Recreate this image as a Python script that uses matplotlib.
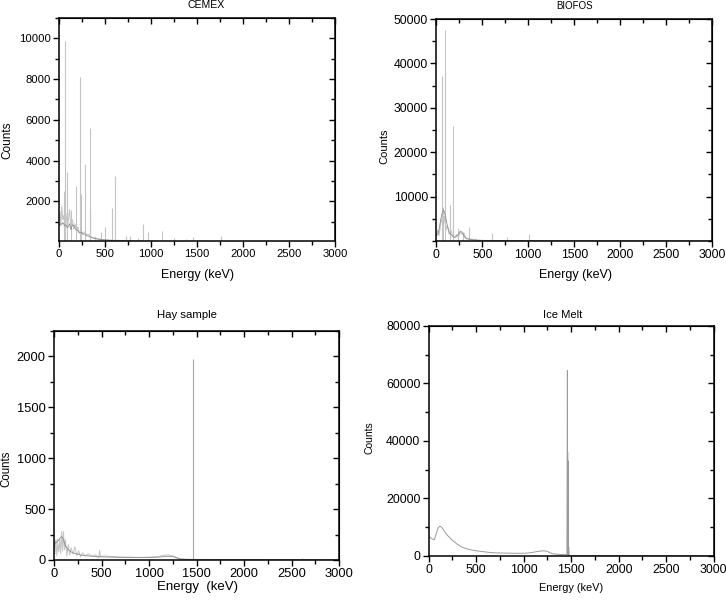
import numpy as np
import matplotlib
matplotlib.use('Agg')
import matplotlib.pyplot as plt
from matplotlib.ticker import MultipleLocator

plt.rcParams['font.family'] = ['Liberation Sans', 'DejaVu Sans']

# ---- CEMEX ----
cemex_energy = [0, 10, 20, 30, 40, 50, 60, 75, 90, 100, 115, 130, 145, 160, 175, 190, 205, 220, 240,
                260, 280, 300, 320, 345, 370, 400, 450, 500, 550, 600, 700, 800, 900, 1000, 1200,
                1400, 1600, 1800, 2000, 2500, 3000]
cemex_light = [900, 1500, 800, 1750, 1100, 1300, 900, 1400, 800, 1000, 1600, 700, 1100, 650, 900, 550,
               750, 450, 600, 400, 500, 350, 380, 250, 220, 180, 140, 120, 100, 90, 70, 55, 45, 40,
               30, 25, 20, 15, 10, 8, 5]
cemex_dark = [800, 850, 900, 870, 950, 900, 800, 850, 700, 750, 900, 600, 850, 800, 650, 600, 550, 450,
              480, 380, 400, 300, 300, 230, 200, 160, 120, 100, 80, 70, 60, 45, 40, 35, 25, 20, 15,
              12, 8, 5, 4]
cemex_peak_e = [58, 69, 87, 130, 188, 232, 241, 286, 335, 340, 391, 456, 503, 580, 605, 727, 775,
                860, 910, 967, 1123, 1247, 1377, 1460, 1594, 1764]
cemex_peak_c = [2500, 9850, 3450, 1550, 2750, 8100, 2350, 3850, 1550, 5600, 300, 500, 750, 1650,
                3250, 300, 300, 200, 870, 500, 550, 180, 150, 250, 100, 300]

# ---- BIOFOS ----
biofos_energy = [0, 15, 30, 45, 60, 75, 90, 105, 120, 140, 160, 180, 200, 220, 240, 260, 280, 300,
                 320, 350, 400, 450, 500, 600, 800, 1000, 1500, 2000, 3000]
biofos_light = [1000, 2500, 1200, 3500, 5000, 3000, 5500, 2500, 3500, 1500, 2500, 1000, 800, 1500,
                900, 2000, 1500, 1800, 700, 600, 300, 200, 150, 120, 80, 60, 30, 20, 10]
biofos_dark = [1200, 1500, 2500, 4500, 6000, 7000, 6500, 5000, 3500, 2000, 1500, 1000, 800, 1000,
               1500, 2200, 2000, 1200, 600, 400, 250, 180, 130, 100, 70, 50, 25, 15, 8]
biofos_peak_e = [62, 73, 92, 152, 186, 236, 295, 352, 417, 609, 768, 1004]
biofos_peak_c = [37200, 7700, 47500, 8000, 25900, 3000, 2000, 3200, 600, 1900, 1000, 1500]

# ---- Hay sample ----
hay_energy = [0, 10, 20, 30, 40, 50, 60, 70, 80, 90, 100, 110, 120, 135, 150, 165, 180, 200, 220,
              240, 260, 280, 300, 330, 360, 400, 440, 470, 480, 490, 520, 600, 700, 800, 900, 1000,
              1100, 1150, 1200, 1250, 1280, 1320, 1350, 1400, 1500, 1700, 2000, 2500, 3000]
hay_light = [230, 60, 200, 40, 170, 80, 200, 60, 280, 90, 280, 100, 200, 40, 150, 50, 120, 60, 130,
             40, 90, 30, 70, 40, 60, 35, 50, 20, 95, 30, 40, 35, 30, 28, 25, 28, 35, 45, 50, 40, 30,
             15, 10, 8, 6, 5, 5, 4, 3]
hay_dark = [150, 160, 180, 170, 200, 190, 210, 220, 230, 220, 200, 170, 140, 120, 100, 90, 80, 70,
            65, 60, 55, 50, 45, 42, 40, 38, 35, 33, 35, 32, 30, 28, 26, 25, 24, 25, 28, 32, 36, 34,
            25, 12, 8, 6, 5, 4, 4, 3, 2]
hay_peak_e = [1460, 2614]
hay_peak_c = [1975, 15]

# ---- Ice Melt ----
ice_energy = [0, 20, 40, 60, 80, 100, 120, 140, 160, 180, 200, 250, 300, 350, 400, 450, 500, 550,
              600, 650, 700, 800, 900, 1000, 1050, 1100, 1150, 1200, 1240, 1260, 1300, 1350, 1400,
              1450, 1455, 1460, 1461, 1462, 1463, 1464, 1466, 1467, 1469, 1471, 1474, 1478, 1500,
              2000, 2500, 3000]
ice_counts = [7000, 6200, 5800, 5600, 7800, 9800, 10300, 9800, 8800, 7800, 7000, 5300, 4000, 3000,
              2400, 2000, 1700, 1500, 1300, 1100, 1000, 900, 850, 850, 950, 1200, 1500, 1700, 1600,
              1300, 700, 500, 400, 350, 500, 64500, 40000, 500, 36000, 500, 33000, 300, 20000, 200,
              3000, 150, 60, 30, 20, 10]

LIGHT = '#c4c4c4'
DARK = '#8e8e8e'


def setup_axes(ax, ylim, yminor, yticks, fs):
  ax.set_xlim(0, 3000)
  ax.set_ylim(*ylim)
  xt = np.arange(0, 3001, 500)
  ax.set_xticks(xt)
  ax.xaxis.set_minor_locator(MultipleLocator(250))
  ax.set_yticks(yticks)
  ax.yaxis.set_minor_locator(MultipleLocator(yminor))
  ax.tick_params(which='major', direction='out', length=4, width=1, labelsize=fs, pad=2)
  ax.tick_params(which='minor', direction='out', length=3, width=1)
  for s in ax.spines.values():
    s.set_linewidth(1.1)
  # mirrored inward ticks on top / right
  top = ax.secondary_xaxis('top')
  top.set_xticks(xt)
  top.xaxis.set_minor_locator(MultipleLocator(250))
  top.tick_params(which='both', direction='in', labeltop=False, width=1)
  top.tick_params(which='major', length=4)
  top.tick_params(which='minor', length=3)
  right = ax.secondary_yaxis('right')
  right.set_yticks(yticks)
  right.yaxis.set_minor_locator(MultipleLocator(yminor))
  right.tick_params(which='both', direction='in', labelright=False, width=1)
  right.tick_params(which='major', length=4)
  right.tick_params(which='minor', length=3)


fig = plt.figure(figsize=(7.26, 6.03), dpi=100)
W, H = 726.0, 603.0

def add_axes(l, t, r, b):
  return fig.add_axes([l / W, 1 - b / H, (r - l) / W, (b - t) / H])

def ftext(x, y, s, size, rot=0):
  fig.text(x / W, 1 - y / H, s, fontsize=size, rotation=rot, ha='center', va='center')

# CEMEX
ax1 = add_axes(59, 18, 335, 241)
ax1.plot(cemex_energy, cemex_light, color=LIGHT, lw=0.7)
ax1.vlines(cemex_peak_e, 0, cemex_peak_c, color=LIGHT, lw=0.8)
ax1.plot(cemex_energy, cemex_dark, color=DARK, lw=0.6)
setup_axes(ax1, (50, 11000), 1000, [2000, 4000, 6000, 8000, 10000], 8.1)
ftext(206, 5, 'CEMEX', 7.6)
ftext(7, 140, 'Counts', 8.5, 90)
ftext(197, 275, 'Energy (keV)', 9)

# BIOFOS
ax2 = add_axes(436.3, 19, 712.3, 241)
ax2.plot(biofos_energy, biofos_light, color=LIGHT, lw=0.7)
ax2.vlines(biofos_peak_e, 0, biofos_peak_c, color=LIGHT, lw=0.8)
ax2.plot(biofos_energy, biofos_dark, color=DARK, lw=0.6)
setup_axes(ax2, (0, 50000), 5000, [10000, 20000, 30000, 40000, 50000], 8.8)
ftext(575, 6, 'BIOFOS', 7)
ftext(384.7, 146, 'Counts', 8, 90)
ftext(575.5, 275, 'Energy (keV)', 9)

# Hay sample
ax3 = add_axes(54, 330.7, 339, 560)
ax3.plot(hay_energy, hay_light, color=LIGHT, lw=0.7)
ax3.plot(hay_energy, hay_dark, color=DARK, lw=0.6)
ax3.vlines(hay_peak_e, 0, hay_peak_c, color='#a8a8a8', lw=0.8)
setup_axes(ax3, (0, 2250), 250, [0, 500, 1000, 1500, 2000], 9.3)
ftext(187, 315, 'Hay sample', 8.2)
ftext(6.7, 469, 'Counts', 8.3, 90)
ftext(197, 587, 'Energy  (keV)', 9.5)

# Ice Melt
ax4 = add_axes(428.7, 326, 713.7, 555.7)
ax4.plot(ice_energy, ice_counts, color='#9a9a9a', lw=0.7)
setup_axes(ax4, (0, 80000), 10000, [0, 20000, 40000, 60000, 80000], 8.9)
ftext(563, 315, 'Ice Melt', 8.1)
ftext(369.7, 438, 'Counts', 7.5, 90)
ftext(571, 588, 'Energy (keV)', 7.9)

fig.savefig('out.png', dpi=100)
